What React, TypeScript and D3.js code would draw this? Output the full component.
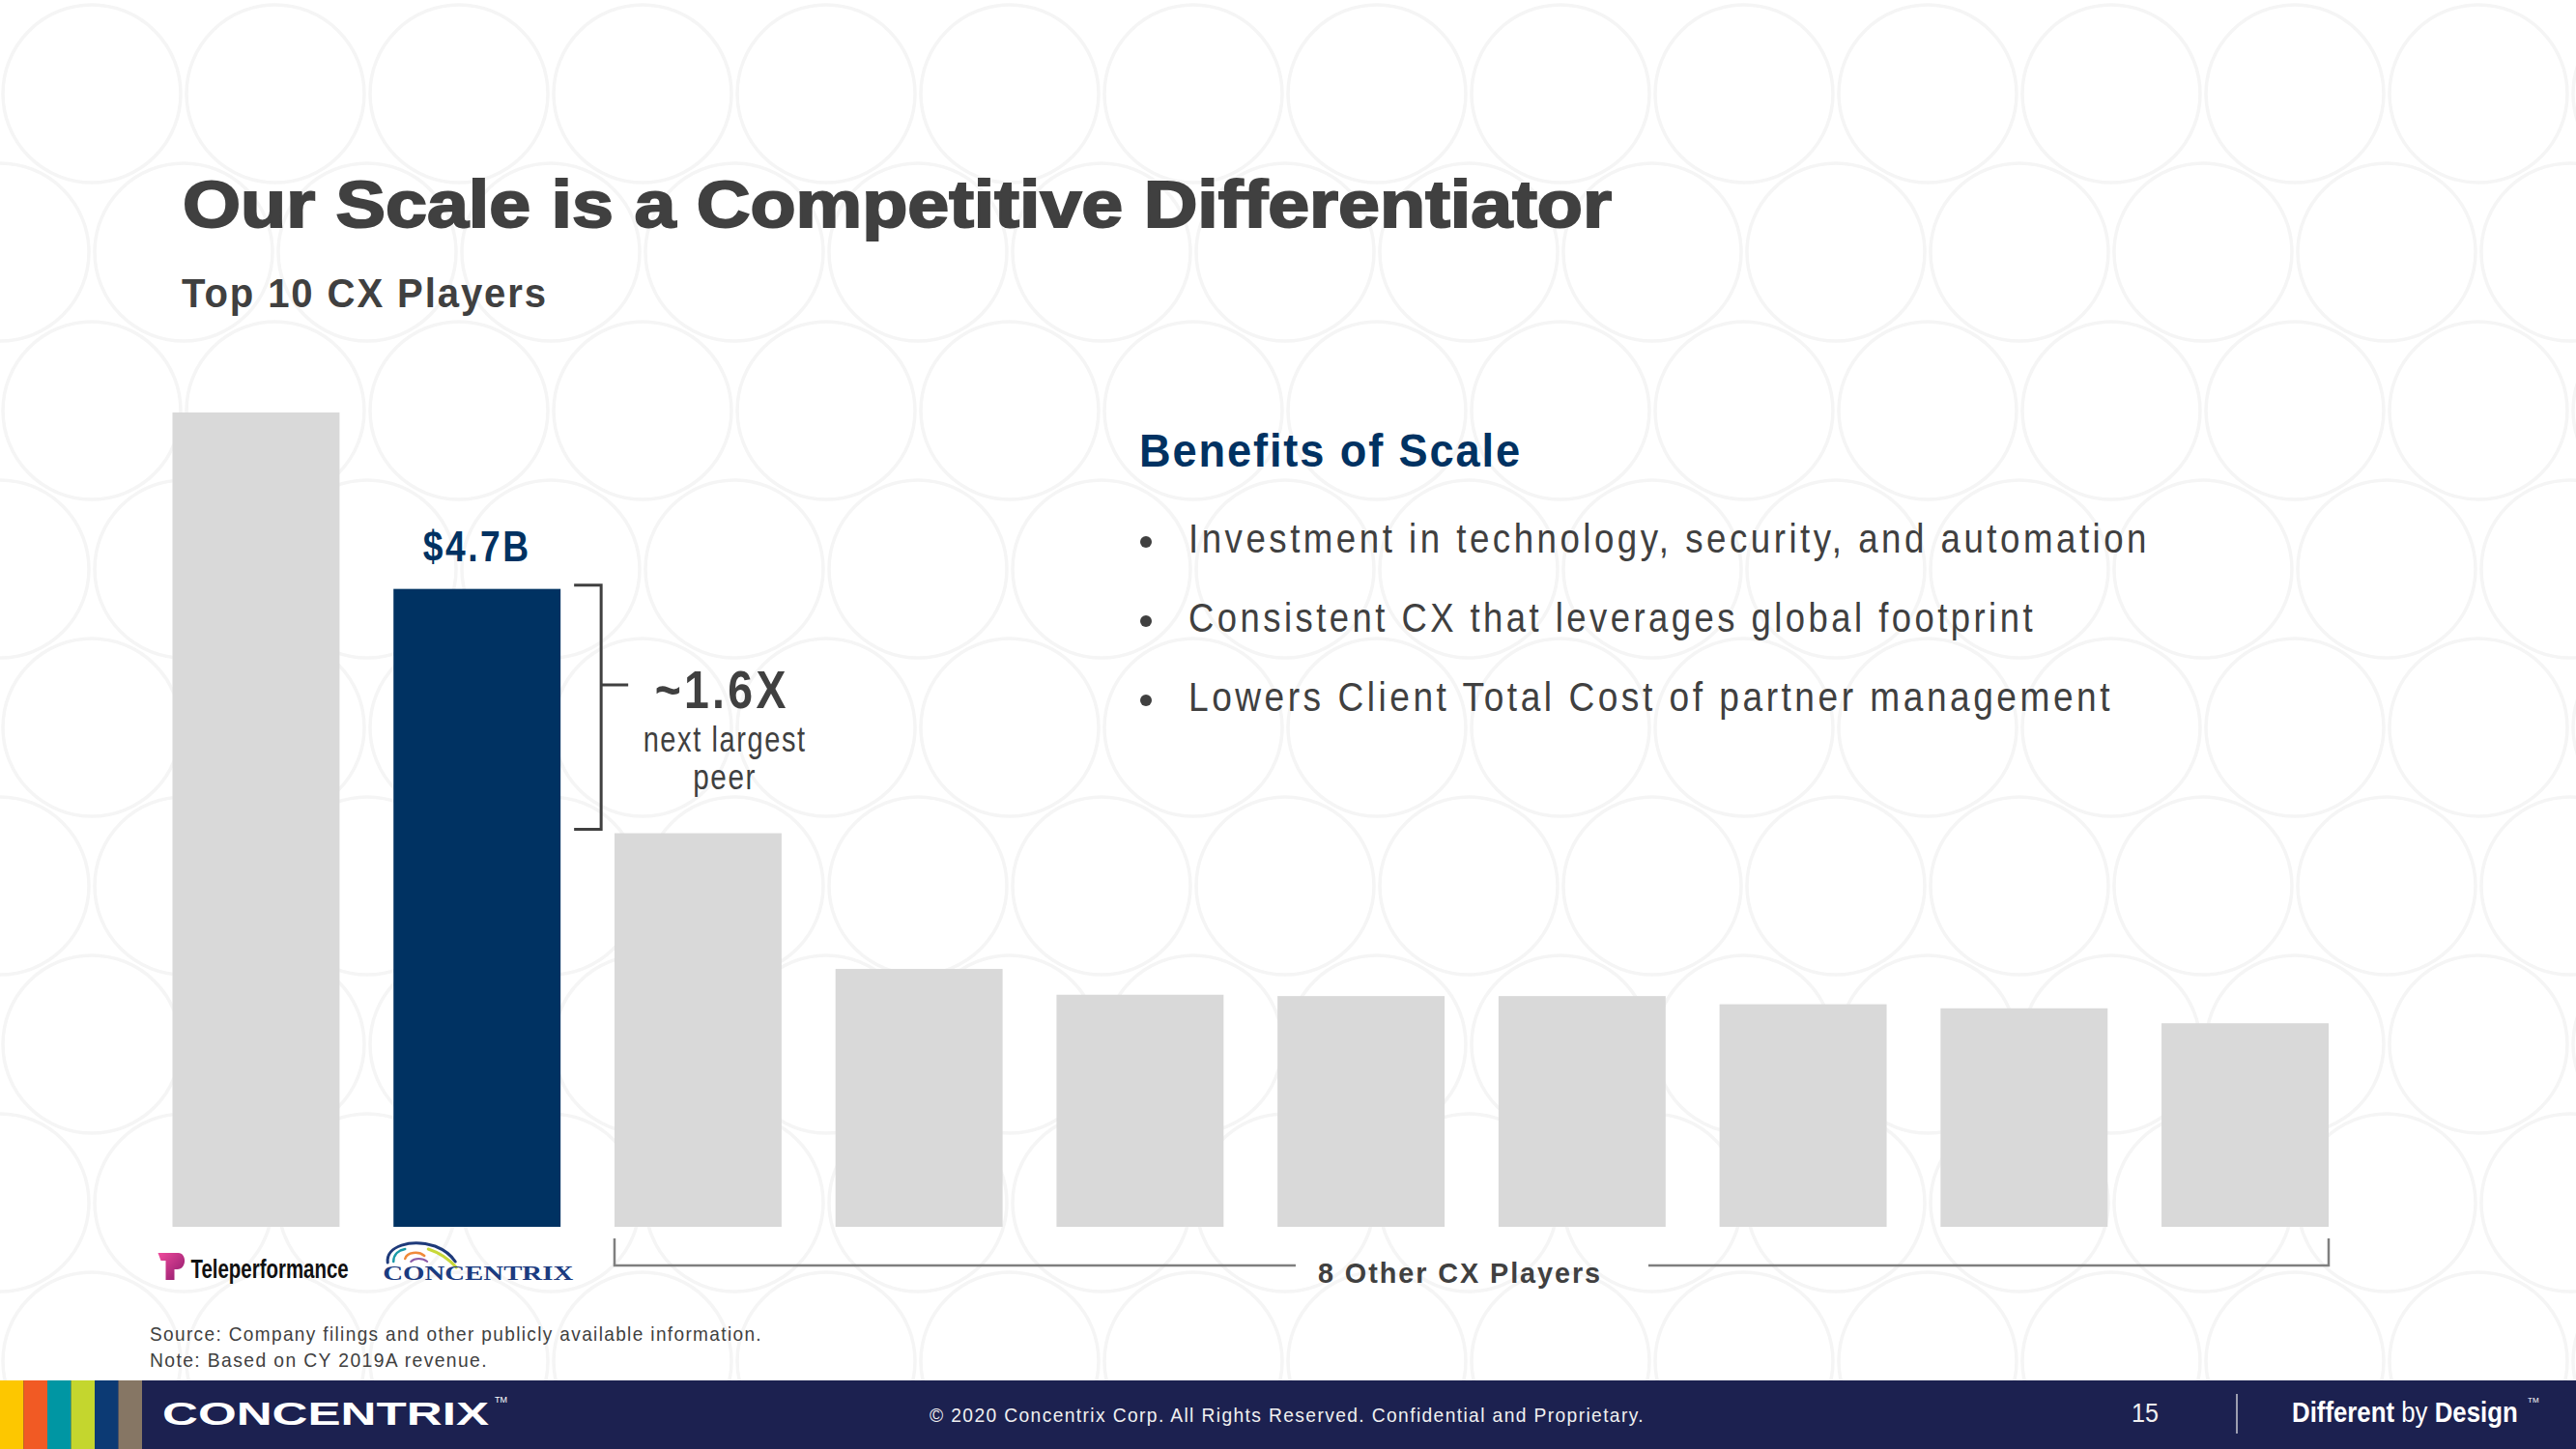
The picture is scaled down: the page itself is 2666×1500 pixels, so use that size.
import React from "react";
import * as d3 from "d3";

// ---------- data ----------
const categories = [
  "Teleperformance",
  "Concentrix",
  "Peer 3",
  "Peer 4",
  "Peer 5",
  "Peer 6",
  "Peer 7",
  "Peer 8",
  "Peer 9",
  "Peer 10",
];
const revenueB = [6.0, 4.7, 2.9, 1.9, 1.71, 1.7, 1.7, 1.64, 1.61, 1.5];
const highlight = "Concentrix";
const highlightLabel = "$4.7B";
const multipleLabel = "~1.6X";
const multipleSub = ["next largest", "peer"];
const othersLabel = "8 Other CX Players";
const benefitsTitle = "Benefits of Scale";
const benefits = [
  "Investment in technology, security, and automation",
  "Consistent CX that leverages global footprint",
  "Lowers Client Total Cost of partner management",
];
const benefitWidths = [995, 877, 957];
const notes = [
  "Source: Company filings and other publicly available information.",
  "Note: Based on CY 2019A revenue.",
];
const stripeColors = ["#fdc700", "#f15a24", "#0096a3", "#c4d62e", "#0c3a74", "#867664"];

const W = 2666;
const H = 1500;
const NAVY = "#003262";
const GREY = "#404040";
const BAR_GREY = "#d9d9d9";
const FONT = "'Liberation Sans', Arial, sans-serif";

type TP = {
  x: number;
  y: number;
  size: number;
  len?: number;
  weight?: string | number;
  fill?: string;
  anchor?: "start" | "middle" | "end";
  ls?: number;
  family?: string;
  stroke?: string;
  sw?: number;
  children: React.ReactNode;
};
const T = ({ x, y, size, len, weight = "normal", fill = GREY, anchor = "start", ls = 0, family = FONT, stroke, sw, children }: TP) => (
  <text
    x={x}
    y={y}
    fontSize={size}
    fontWeight={weight}
    fill={fill}
    textAnchor={anchor}
    fontFamily={family}
    stroke={stroke}
    strokeWidth={sw}
    textLength={len}
    lengthAdjust={len ? "spacingAndGlyphs" : undefined}
    style={{ letterSpacing: ls }}
  >
    {children}
  </text>
);

export default function App() {
  const x = d3.scaleBand<string>().domain(categories).range([178.5, 2410]).paddingInner(0.244).paddingOuter(0);
  const y = d3.scaleLinear().domain([0, 6.0]).range([1270, 427]);
  const bw = x.bandwidth();

  // background circle pattern
  const circles: { cx: number; cy: number }[] = [];
  d3.range(0, 10).forEach((r) => {
    d3.range(-1, 16).forEach((k) => {
      circles.push({ cx: (r % 2 === 0 ? 95 : 0) + k * 190, cy: 97 + r * 164 });
    });
  });

  const hiX = x(highlight)!;
  const hiVal = revenueB[categories.indexOf(highlight)];
  const peerVal = revenueB[2];
  const brTop = y(hiVal) - 4;
  const brBot = y(peerVal) - 4;
  const brX0 = hiX + bw + 14;
  const brX1 = hiX + bw + 42;
  const brMid = (brTop + brBot) / 2 - 22;
  const annX = brX1 + 125;

  const oStart = x(categories[2])!;
  const oEnd = x(categories[categories.length - 1])! + bw;
  const oY = 1310;
  const oMid = (oStart + oEnd) / 2;

  const tpX = x(categories[0])!;
  const cxL = hiX - 12;

  return (
    <svg width={W} height={H} style={{ position: "absolute", left: 0, top: 0, background: "#fff" }}>
      <rect x={0} y={0} width={W} height={H} fill="#fff" />
      <g fill="none" stroke="#f5f5f5" strokeWidth={3.5}>
        {circles.map((c, i) => (
          <circle key={i} cx={c.cx} cy={c.cy} r={92} />
        ))}
      </g>

      {/* Title */}
      <T x={189} y={235} size={68} weight="bold" len={1479} stroke={GREY} sw={2}>
        Our Scale is a Competitive Differentiator
      </T>
      <T x={188} y={318} size={42} weight="bold" len={379} ls={2}>
        Top 10 CX Players
      </T>

      {/* Bars */}
      {categories.map((c, i) => (
        <rect
          key={c}
          x={x(c)}
          y={y(revenueB[i])}
          width={bw}
          height={y(0) - y(revenueB[i])}
          fill={c === highlight ? NAVY : BAR_GREY}
        />
      ))}

      {/* highlight label */}
      <T x={hiX + bw / 2} y={y(hiVal) - 29} size={44} weight="bold" fill={NAVY} anchor="middle" len={112} ls={3}>
        {highlightLabel}
      </T>

      {/* bracket */}
      <path
        d={`M${brX0},${brTop}H${brX1}V${brBot}H${brX0}M${brX1},${brMid - 1}H${brX1 + 28}`}
        fill="none"
        stroke={GREY}
        strokeWidth={3}
      />
      <T x={annX} y={733} size={56} weight="bold" anchor="middle" len={139} ls={4}>
        {multipleLabel}
      </T>
      <T x={annX + 3} y={778} size={36} anchor="middle" len={169} ls={2}>
        {multipleSub[0]}
      </T>
      <T x={annX + 3} y={817} size={36} anchor="middle" len={66} ls={2}>
        {multipleSub[1]}
      </T>

      {/* Benefits */}
      <T x={1179} y={483} size={48} weight="bold" fill={NAVY} len={396} ls={2}>
        {benefitsTitle}
      </T>
      {benefits.map((b, i) => (
        <g key={b}>
          <circle cx={1186} cy={561 + i * 82} r={6} fill={GREY} />
          <T x={1230} y={572 + i * 82} size={42} len={benefitWidths[i]} ls={4}>
            {b}
          </T>
        </g>
      ))}

      {/* others bracket */}
      <path
        d={`M${oStart},${oY - 28}V${oY}H${oMid - 182}M${oMid + 183},${oY}H${oEnd}V${oY - 28}`}
        fill="none"
        stroke="#7f7f7f"
        strokeWidth={2.5}
      />
      <T x={oMid - 12} y={1328} size={30} weight="bold" anchor="middle" len={294} ls={2}>
        {othersLabel}
      </T>

      {/* Teleperformance logo */}
      <defs>
        <linearGradient id="tpg" x1="0" y1="0" x2="1" y2="1">
          <stop offset="0" stopColor="#f04a9c" />
          <stop offset="1" stopColor="#8c1a6c" />
        </linearGradient>
      </defs>
      <path
        d={`M${tpX - 15},1297 H${tpX + 6} C${tpX + 15},1297 ${tpX + 15},1314 ${tpX + 5},1314 H${tpX + 2} V1325 H${tpX - 7} V1305 H${tpX - 12} Z`}
        fill="url(#tpg)"
      />
      <text
        transform={`translate(${tpX + 19},1323) scale(0.73,1)`}
        fontSize={28}
        fontWeight="bold"
        fill="#111"
        fontFamily={FONT}
      >
        Teleperformance
      </text>

      {/* Concentrix logo */}
      <g fill="none" strokeLinecap="round">
        <path d={`M${cxL + 6},1307 C${cxL + 4},1290 ${cxL + 30},1282 ${cxL + 55},1290 C${cxL + 65},1294 ${cxL + 72},1300 ${cxL + 76},1306`} stroke="#1e3a7a" strokeWidth={3} />
        <path d={`M${cxL + 48},1293 C${cxL + 60},1297 ${cxL + 70},1304 ${cxL + 77},1312`} stroke="#c8d838" strokeWidth={3} />
        <path d={`M${cxL + 12},1306 C${cxL + 12},1298 ${cxL + 18},1294 ${cxL + 24},1293`} stroke="#1a9aa8" strokeWidth={2.5} />
        <path d={`M${cxL + 24},1303 C${cxL + 26},1296 ${cxL + 38},1295 ${cxL + 44},1300`} stroke="#f08a3a" strokeWidth={2.5} />
        <path d={`M${cxL + 30},1306 C${cxL + 34},1302 ${cxL + 42},1302 ${cxL + 47},1306`} stroke="#8a5aa8" strokeWidth={2} />
      </g>
      <T x={cxL + 1} y={1325} size={20} weight="bold" fill="#1b3b80" len={197} family="'Liberation Serif', 'Times New Roman', serif">
        CONCENTRIX
      </T>

      {/* notes */}
      {notes.map((n, i) => (
        <T key={n} x={155} y={1388 + i * 27} size={21} len={i === 0 ? 634 : 350} ls={1.5}>
          {n}
        </T>
      ))}

      {/* footer */}
      <rect x={0} y={1429} width={W} height={H - 1429} fill="#1c2150" />
      {stripeColors.map((c, i) => (
        <rect key={c} x={i * 24.5} y={1429} width={24.5} height={H - 1429} fill={c} />
      ))}
      <T x={168} y={1475} size={33} weight="bold" fill="#fff" len={338}>
        CONCENTRIX
      </T>
      <T x={512} y={1452} size={9} fill="#fff">
        TM
      </T>
      <T x={962} y={1472} size={21} fill="#f0f0f0" len={740} ls={1.5}>
        © 2020 Concentrix Corp. All Rights Reserved. Confidential and Proprietary.
      </T>
      <T x={2206} y={1472} size={27} fill="#f0f0f0" len={28}>
        15
      </T>
      <line x1={2315} x2={2315} y1={1443} y2={1484} stroke="#c8c8d0" strokeWidth={1.5} />
      <text transform="translate(2372,1472) scale(0.89,1)" fontSize={29} fill="#fff" fontFamily={FONT}>
        <tspan fontWeight="bold">Different</tspan>
        <tspan> by </tspan>
        <tspan fontWeight="bold">Design</tspan>
      </text>
      <T x={2616} y={1452} size={8} fill="#fff">
        TM
      </T>
    </svg>
  );
}
